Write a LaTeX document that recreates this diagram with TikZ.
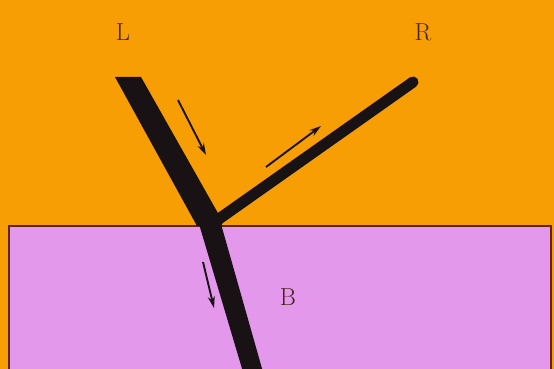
\documentclass[tikz,border=0pt]{standalone}
\usepackage{tikz}
\usetikzlibrary{arrows.meta,positioning,calc}
\definecolor{fondo}{RGB}{247, 158, 5}
\definecolor{medio}{RGB}{228, 152, 236}
\definecolor{borde}{RGB}{95, 35, 25}
\definecolor{tinta}{RGB}{25, 18, 20}
\definecolor{letra}{RGB}{70, 35, 30}

\begin{document}
\begin{tikzpicture}[x=0.3mm,y=-0.3mm,>={Stealth[length=10pt,width=6pt]},
    etiqueta/.style={font=\fontsize{21}{25}\selectfont,text=letra,inner sep=0pt},
    rayo/.style={->,line width=1.6pt,tinta}]
        % fondo y bloque
        \useasboundingbox (0,0) rectangle (554,368);
        \fill[fondo] (-5,-5) rectangle (560,375);
        \fill[medio] (9,226) rectangle (551,375);
        \draw[borde,line width=1.2pt] (9,375) -- (9,226) -- (551,226) -- (551,375);
        % puntos
        \coordinate (inc) at (128,77);
        \coordinate (hit) at (211,223);
        \coordinate (ref) at (413,82);
        \coordinate (sal) at (252,368);
        % haces
        \fill[tinta] (115,77) -- (141,77) -- (223,222) -- (221,226) -- (197,226) -- cycle;
        \fill[tinta] (199,224) -- (221,224) -- (263,372) -- (243,372) -- cycle;
        \draw[tinta,line width=9.5pt,line cap=round] (216,221) -- (ref);
        % flechas
        \coordinate (a1) at (178,100);
        \coordinate (a2) at (206,155);
        \coordinate (b1) at (266,167);
        \coordinate (b2) at (321,126);
        \coordinate (c1) at (203,262);
        \coordinate (c2) at (214,308);
        \draw[rayo] (a1) -- (a2);
        \draw[rayo] (b1) -- (b2);
        \draw[rayo] (c1) -- (c2);
        % letras
        \node[etiqueta] (L) at (123,32) {L};
        \node[etiqueta] (R) at (423,32) {R};
        \node[etiqueta] (B) at (288,297) {B};
      \end{tikzpicture}
\end{document}
